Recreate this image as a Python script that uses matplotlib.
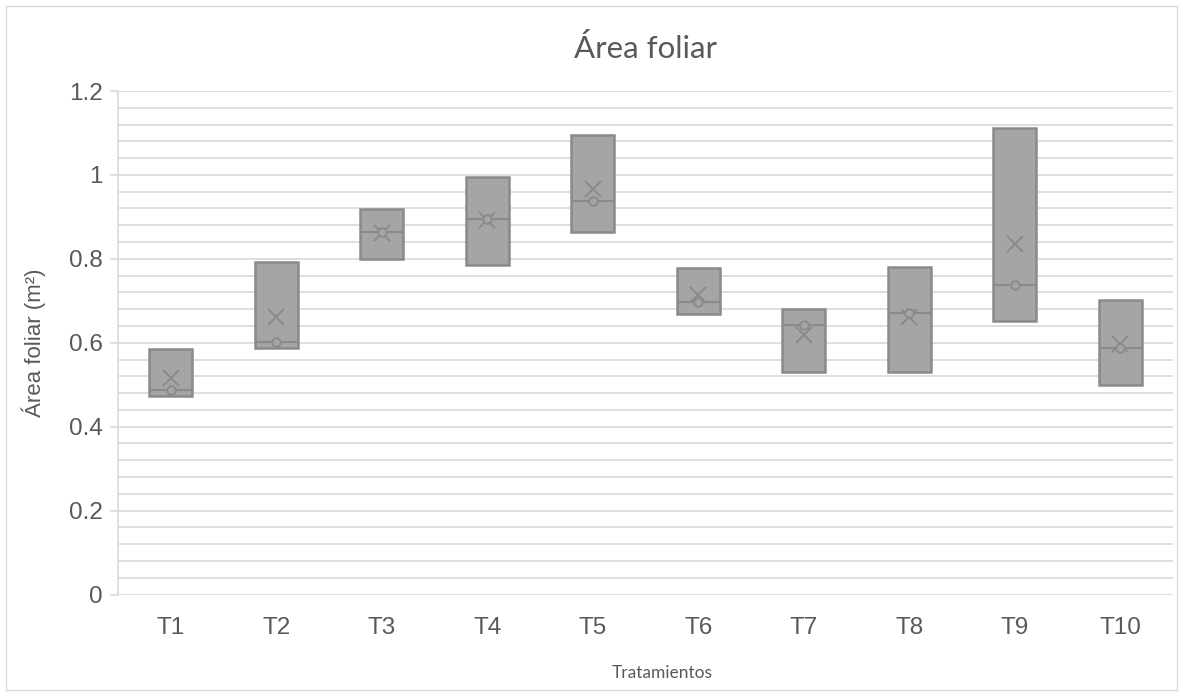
import numpy as np
import matplotlib
matplotlib.use("Agg")
import matplotlib.pyplot as plt
from matplotlib.patches import Rectangle

# tratamientos y sus tres lecturas de área foliar (m2): mínimo, mediana, máximo
tratamientos = ["T1", "T2", "T3", "T4", "T5", "T6", "T7", "T8", "T9", "T10"]
minimo = [0.474, 0.588, 0.799, 0.785, 0.865, 0.668, 0.530, 0.530, 0.653, 0.499]
mediana = [0.487, 0.602, 0.864, 0.895, 0.939, 0.698, 0.642, 0.670, 0.738, 0.587]
maximo = [0.584, 0.792, 0.919, 0.996, 1.094, 0.777, 0.681, 0.781, 1.113, 0.703]
yticks = [0, 0.2, 0.4, 0.6, 0.8, 1, 1.2]

lecturas = np.array([minimo, mediana, maximo])
media = lecturas.mean(axis=0)

gris_caja = "#a5a5a5"
gris_borde = "#8a8a8a"
gris_texto = "#595959"
gris_rejilla = "#d9d9d9"

fig = plt.figure(figsize=(11.83, 6.96), dpi=100)
ax = fig.add_axes([118 / 1183, 101.5 / 696, 1055 / 1183, 503.5 / 696])

# marco exterior del gráfico
fig.patches.append(Rectangle((6 / 1183, 6 / 696), 1171 / 1183, 684 / 696,
                             transform=fig.transFigure, fill=False,
                             edgecolor=gris_rejilla, linewidth=1.0))

pos = np.arange(1, len(tratamientos) + 1)
stats = []
for i in range(len(tratamientos)):
    stats.append(dict(med=mediana[i], q1=minimo[i], q3=maximo[i],
                      whislo=minimo[i], whishi=maximo[i], mean=media[i],
                      fliers=[]))

ax.bxp(stats, positions=pos, widths=0.41, patch_artist=True,
       showmeans=True, showcaps=False, showfliers=False,
       boxprops=dict(facecolor=gris_caja, edgecolor=gris_borde, linewidth=1.8),
       medianprops=dict(color=gris_borde, linewidth=1.5),
       whiskerprops=dict(linewidth=0),
       meanprops=dict(marker="x", markersize=12, markeredgecolor=gris_borde,
                      markeredgewidth=1.4, linestyle="none"),
       zorder=3)

# punto de la lectura central
ax.scatter(pos, mediana, s=38, facecolor=gris_caja, edgecolor=gris_borde,
           linewidth=1.4, zorder=4)

ax.set_xlim(0.5, len(tratamientos) + 0.5)
ax.set_ylim(0, 1.2)
ax.set_yticks(yticks)
ax.set_yticklabels(["0", "0.2", "0.4", "0.6", "0.8", "1", "1.2"])
ax.set_yticks(np.arange(0, 1.2001, 0.04), minor=True)
ax.set_xticks(pos)
ax.set_xticklabels(tratamientos)

ax.grid(axis="y", which="both", color=gris_rejilla, linewidth=1.2, zorder=0)
ax.set_axisbelow(True)
for s in ["top", "right", "bottom"]:
    ax.spines[s].set_visible(False)
ax.spines["left"].set_color(gris_rejilla)
ax.spines["left"].set_linewidth(1.2)

ax.tick_params(axis="y", which="major", length=6, width=1.2, color=gris_rejilla,
               labelsize=17.5, labelcolor=gris_texto, pad=5)
ax.tick_params(axis="y", which="minor", length=0)
ax.tick_params(axis="x", length=0, labelsize=17.5, labelcolor=gris_texto, pad=16)
for lab in ax.get_xticklabels() + ax.get_yticklabels():
    lab.set_fontfamily("Liberation Sans")

ax.set_title("Área foliar", fontsize=22.5, color=gris_texto, family="Lato", pad=24)
ax.set_xlabel("Tratamientos", fontsize=12.5, color=gris_texto, family="Lato")
ax.xaxis.set_label_coords(0.516, -0.14)
ax.set_ylabel("Área foliar (m²)", fontsize=16, color=gris_texto,
              family="Liberation Sans")
ax.yaxis.set_label_coords(-0.068, 0.5)

fig.savefig("out.png", dpi=100)
